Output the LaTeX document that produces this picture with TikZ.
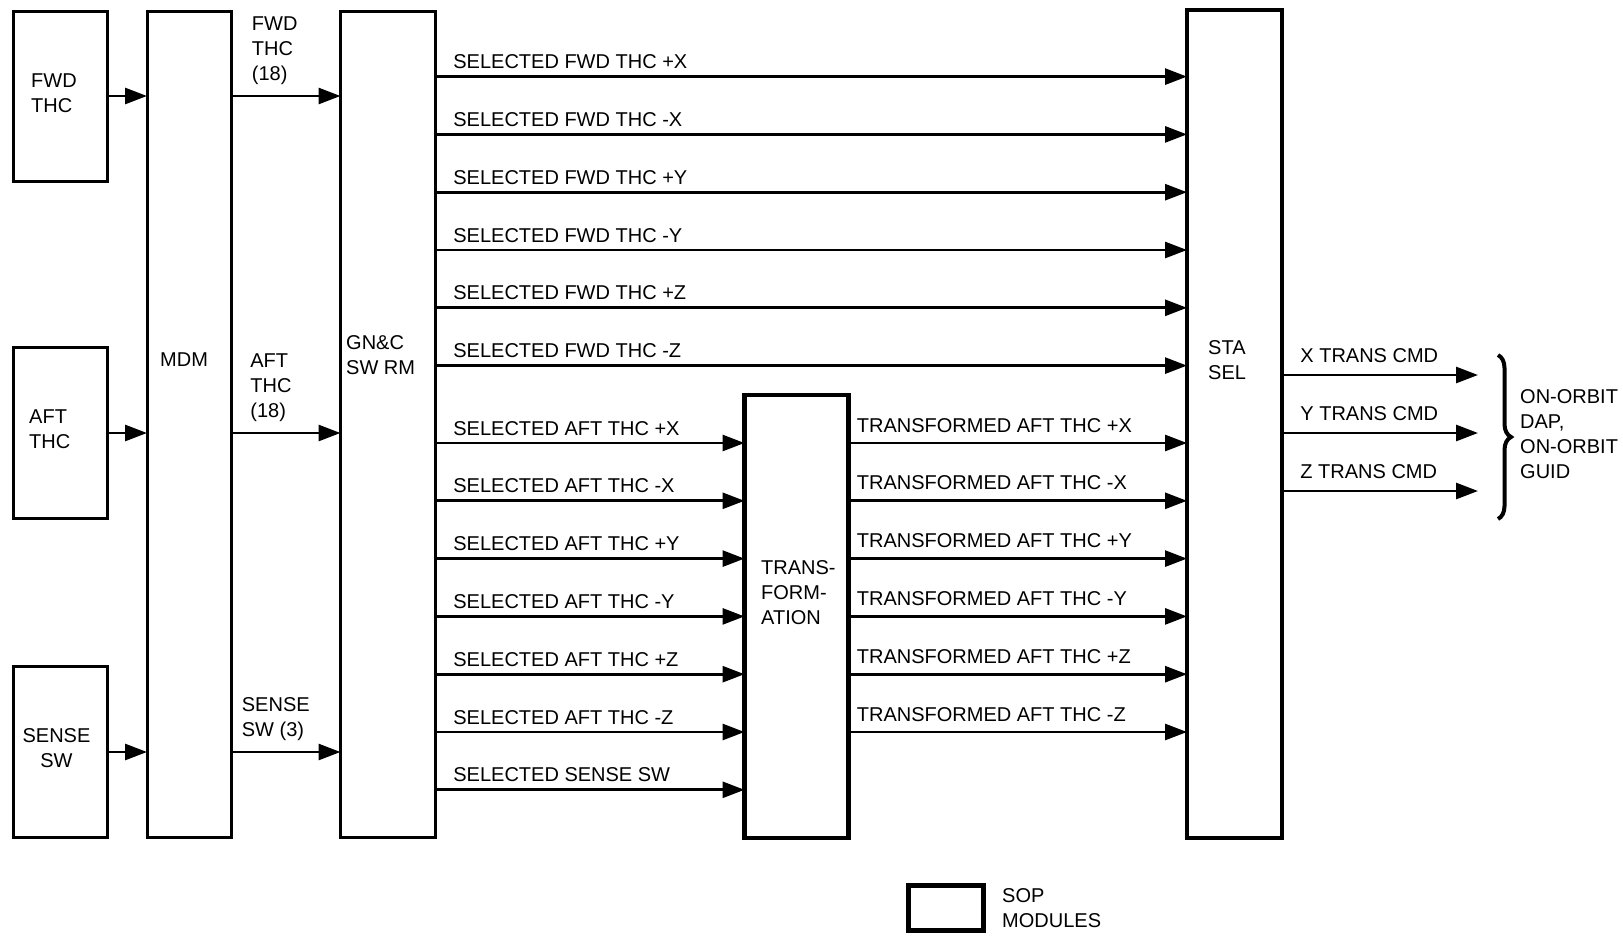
\documentclass[tikz,border=0pt]{standalone}
\usepackage{fontspec}
\setmainfont{Liberation Sans}
\usepackage{tikz}
\usetikzlibrary{arrows.meta, positioning, decorations.pathreplacing}

\tikzset{
  box/.style={draw, line width=3pt, inner sep=0pt, outer sep=0pt},
  sopbox/.style={draw, line width=4.5pt, inner sep=0pt, outer sep=0pt},
  txt/.style={inner sep=0pt, anchor=west, align=left},
  sig/.style={line width=2.8pt, -{Triangle[length=22pt,width=16pt]}},
  sigtxt/.style={inner sep=0pt, anchor=base west, yshift=8pt},
}

\begin{document}
\begin{tikzpicture}[x=1pt, y=-1pt, font=\fontsize{20}{25}\selectfont]

  \useasboundingbox (0,0) rectangle (1623,935);

  % Hand controllers and sense switch
  \node[box, minimum width=94pt, minimum height=170pt] (fwdthc) at (60,96) {};
  \node[box, minimum width=94pt, minimum height=171pt] (aftthc) at (60,433) {};
  \node[box, minimum width=94pt, minimum height=171pt] (sensesw) at (60,752) {};
  \node[txt] (fwdthctxt) at (31,93.5) {FWD\\THC};
  \node[txt] (aftthctxt) at (29,429.5) {AFT\\THC};
  \node[inner sep=0pt, align=center] (sensesw txt) at (56.5,748) {SENSE\\SW};

  % MDM and GN&C SW RM
  \node[box, minimum width=84pt, minimum height=826pt] (mdm) at (189,424.5) {};
  \node[box, minimum width=95pt, minimum height=826pt] (gnc) at (388,424.5) {};
  \node[txt] (mdmtxt) at (160,360) {MDM};
  \node[txt] (gnctxt) at (346,355) {GN\&C\\SW RM};

  % SOP modules
  \node[sopbox, minimum width=104pt, minimum height=443pt] (trans) at (796.5,616.5) {};
  \node[sopbox, minimum width=95pt, minimum height=828pt] (stasel) at (1234.5,424) {};
  \node[txt] (transtxt) at (761,593) {TRANS-\\FORM-\\ATION};
  \node[txt] (staseltxt) at (1208,360.5) {STA\\SEL};

  % Inputs into MDM, then on to GN&C
  \foreach \src/\lbl/\dx in {fwdthc/{FWD\\THC\\(18)}/19.5, aftthc/{AFT\\THC\\(18)}/18, sensesw/{SENSE\\SW (3)}/9.5}{
    \draw[sig] (\src.east) -- (\src.east -| mdm.west);
    \draw[sig] (mdm.east |- \src.east) -- (gnc.west |- \src.east)
      node[txt, pos=0, anchor=south west, xshift=\dx pt, yshift=10pt] {\lbl};
  }

  % Forward THC axes
  \foreach \sgn [count=\i from 0] in {+X,-X,+Y,-Y,+Z,-Z}{
    \pgfmathsetmacro{\yy}{76.6+57.8*\i}
    \coordinate (fwd\i) at (0,\yy);
    \draw[sig] (gnc.east |- fwd\i) -- (stasel.west |- fwd\i)
      node[sigtxt, pos=0, xshift=16.5pt] {SELECTED FWD THC \sgn};
  }

  % Aft THC axes through the transformation
  \foreach \sgn [count=\i from 0] in {+X,-X,+Y,-Y,+Z,-Z}{
    \pgfmathsetmacro{\yy}{443+57.8*\i}
    \coordinate (aft\i) at (0,\yy);
    \draw[sig] (gnc.east |- aft\i) -- (trans.west |- aft\i)
      node[sigtxt, pos=0, xshift=16.5pt] {SELECTED AFT THC \sgn};
    \draw[sig] (trans.east |- aft\i) -- (stasel.west |- aft\i)
      node[sigtxt, pos=0, xshift=7pt, yshift=3pt] {TRANSFORMED AFT THC \sgn};
  }
  \coordinate (sense) at (0,789.8);
  \draw[sig] (gnc.east |- sense) -- (trans.west |- sense)
    node[sigtxt, pos=0, xshift=16.5pt] {SELECTED SENSE SW};

  % Outputs
  \foreach \ax [count=\i from 0] in {X,Y,Z}{
    \pgfmathsetmacro{\yy}{375+58*\i}
    \coordinate (out\ax) at (1478,\yy);
    \draw[sig] (stasel.east |- out\ax) -- (out\ax)
      node[sigtxt, pos=0, xshift=17pt, yshift=5pt] {\ax{} TRANS CMD};
  }
  \draw[line width=4pt, decorate, decoration={brace, amplitude=13pt}] (1498,355) -- (1498,519);
  \node[txt] (users) at (1520,433.7) {ON-ORBIT\\DAP,\\ON-ORBIT\\GUID};

  % Legend
  \node[sopbox, minimum width=75pt, minimum height=45pt] (legend) at (946,908) {};
  \node[txt, right=18.5pt of legend] (legendtxt) {SOP\\MODULES};

\end{tikzpicture}
\end{document}
